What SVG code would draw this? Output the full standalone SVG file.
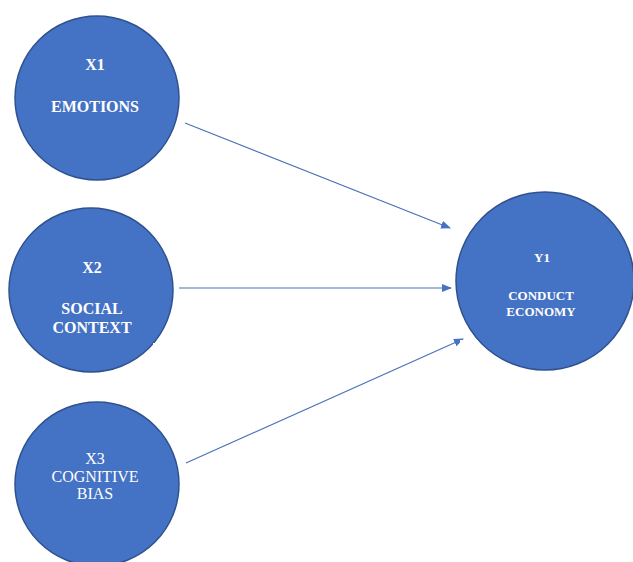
<svg xmlns="http://www.w3.org/2000/svg" width="633" height="562" viewBox="0 0 633 562">
<style>
.node{fill:#4472C4;stroke:#2F528F;stroke-width:1.5}
.b{font-family:"Liberation Serif","Times New Roman",serif;font-weight:bold;fill:#fff;text-anchor:middle}
.r{font-family:"Liberation Serif","Times New Roman",serif;fill:#fff;text-anchor:middle}
.edge{stroke:#4A72B8;stroke-width:1.2;fill:none}
</style>
<defs>
<marker id="ah" markerWidth="10" markerHeight="8" refX="9" refY="4" orient="auto" markerUnits="userSpaceOnUse">
<path d="M0,0 L10,4 L0,8 Z" fill="#4472C4"/>
</marker>
</defs>
<rect width="633" height="562" fill="#fff"/>
<g id="connectors">
<line class="edge" x1="185" y1="123" x2="450" y2="228" marker-end="url(#ah)"/>
<line class="edge" x1="179" y1="288" x2="451" y2="288" marker-end="url(#ah)"/>
<line class="edge" x1="186" y1="463" x2="463" y2="339" marker-end="url(#ah)"/>
</g>
<g id="x1">
<circle class="node" cx="97" cy="98" r="82"/>
<rect x="14" y="35" width="17" height="11" fill="#fff"/>
<rect x="14" y="147" width="17" height="10" fill="#fff"/>
<text class="b" x="95" y="70" font-size="16">X1</text>
<text class="b" x="95" y="112" font-size="16">EMOTIONS</text>
</g>
<g id="x2">
<circle class="node" cx="91" cy="290" r="82"/>
<rect x="153" y="343" width="20" height="8" fill="#fff"/>
<text class="b" x="92" y="273" font-size="16">X2</text>
<text class="b" x="92" y="314" font-size="16">SOCIAL</text>
<text class="b" x="92" y="333" font-size="16">CONTEXT</text>
</g>
<g id="x3">
<circle class="node" cx="97" cy="484" r="82"/>
<text class="r" x="95" y="464" font-size="16">X3</text>
<text class="r" x="95" y="482" font-size="16">COGNITIVE</text>
<text class="r" x="95" y="499" font-size="16">BIAS</text>
</g>
<g id="y1">
<circle class="node" cx="545" cy="281" r="89"/>
<rect x="460" y="340" width="18" height="8" fill="#fff"/>
<text class="b" x="542" y="262" font-size="13">Y1</text>
<text class="b" x="541" y="300" font-size="13">CONDUCT</text>
<text class="b" x="541" y="316" font-size="13">ECONOMY</text>
</g>
</svg>
